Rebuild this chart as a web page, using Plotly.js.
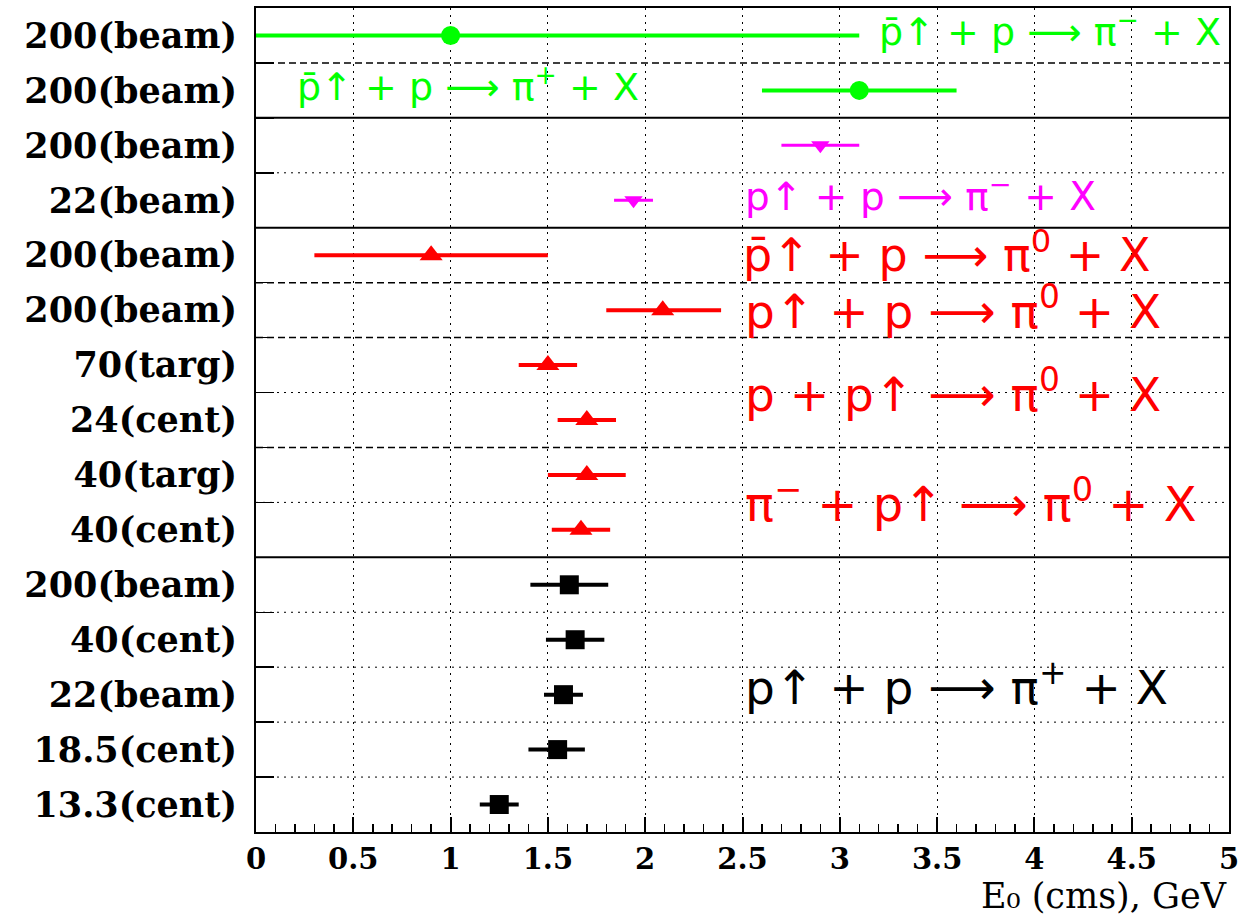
<!DOCTYPE html>
<html>
<head>
<meta charset="utf-8">
<script src="https://cdn.plot.ly/plotly-3.0.1.min.js"></script>
<style>html,body{margin:0;padding:0;background:#fff;}#chart{width:1240px;height:917px;}</style>
</head>
<body>
<div id="chart"></div>
<script>
// Row labels (top to bottom)
const rowLabels = ["200(beam)","200(beam)","200(beam)","22(beam)","200(beam)","200(beam)","70(targ)","24(cent)","40(targ)","40(cent)","200(beam)","40(cent)","22(beam)","18.5(cent)","13.3(cent)"];

// Green: pbar-up + p -> pi-/pi+ + X
const greenRows = [0, 1];
const greenE0 = [1.0, 3.1];
const greenErrMinus = [1.0, 0.5];
const greenErrPlus = [2.1, 0.5];

// Magenta: p-up + p -> pi- + X
const magentaRows = [2, 3];
const magentaE0 = [2.9, 1.94];
const magentaErrMinus = [0.2, 0.1];
const magentaErrPlus = [0.2, 0.1];

// Red: pi0 production
const redRows = [4, 5, 6, 7, 8, 9];
const redE0 = [0.9, 2.09, 1.5, 1.7, 1.7, 1.67];
const redErrMinus = [0.6, 0.29, 0.15, 0.15, 0.2, 0.15];
const redErrPlus = [0.6, 0.3, 0.15, 0.15, 0.2, 0.15];

// Black: p-up + p -> pi+ + X
const blackRows = [10, 11, 12, 13, 14];
const blackE0 = [1.61, 1.64, 1.58, 1.55, 1.25];
const blackErrMinus = [0.2, 0.15, 0.1, 0.15, 0.1];
const blackErrPlus = [0.2, 0.15, 0.1, 0.14, 0.1];

// Separator styles between row i and i+1
const sepStyles = ["dash","solid","dot","solid","dash","dash","dot","dash","dot","solid","dot","dot","dot","dot"];

function trace(rows, x, em, ep, color, symbol, size, thick) {
  return {
    type: 'scatter', mode: 'markers', x: x, y: rows,
    marker: {color: color, symbol: symbol, size: size, line: {width: 0}},
    error_x: {type: 'data', symmetric: false, array: ep, arrayminus: em, color: color, thickness: thick, width: 0},
    showlegend: false, hoverinfo: 'x+y', cliponaxis: false
  };
}

const data = [
  trace(greenRows, greenE0, greenErrMinus, greenErrPlus, '#00ff00', 'circle', 19, 4),
  trace(magentaRows, magentaE0, magentaErrMinus, magentaErrPlus, '#ff00ff', 'triangle-down', 16, 3),
  trace(redRows, redE0, redErrMinus, redErrPlus, '#ff0000', 'triangle-up', 20, 4),
  trace(blackRows, blackE0, blackErrMinus, blackErrPlus, '#000000', 'square', 19, 4)
];

const rowIdx = rowLabels.map((_, i) => i);
const boundaries = sepStyles.map((_, i) => i + 0.5);

const shapes = sepStyles.map((s, i) => ({
  type: 'line', xref: 'paper', x0: 0, x1: 1, yref: 'y', y0: i + 0.5, y1: i + 0.5,
  line: {color: '#000', width: s === 'solid' ? 2 : (s === 'dash' ? 1.5 : 1), dash: s === 'dash' ? '7px,4px' : (s === 'dot' ? '2px,5px' : 'solid')},
  layer: 'below'
}));

const reacFont = 'DejaVu Sans, sans-serif';
function ann(text, x, y, color, size) {
  return {text: text, x: x, y: y, xref: 'x', yref: 'y', xanchor: 'left', yanchor: 'middle',
    showarrow: false, font: {family: reacFont, size: size, color: color}};
}
const annotations = [
  ann('p\u0304\u2191 + p \u27F6 \u03C0<sup>\u2212</sup> + X', 3.19, -0.12, '#00ff00', 38),
  ann('p\u0304\u2191 + p \u27F6 \u03C0<sup>+</sup> + X', 0.2, 0.88, '#00ff00', 38),
  ann('p\u2191 + p \u27F6 \u03C0<sup>\u2212</sup> + X', 2.5, 2.88, '#ff00ff', 39),
  ann('p\u0304\u2191 + p \u27F6 \u03C0<sup>0</sup> + X', 2.49, 3.95, '#ff0000', 46),
  ann('p\u2191 + p \u27F6 \u03C0<sup>0</sup> + X', 2.5, 4.97, '#ff0000', 47),
  ann('p + p\u2191 \u27F6 \u03C0<sup>0</sup> + X', 2.5, 6.48, '#ff0000', 47),
  ann('\u03C0<sup>\u2212</sup> + p\u2191 \u27F6 \u03C0<sup>0</sup> + X', 2.5, 8.48, '#ff0000', 48),
  ann('p\u2191 + p \u27F6 \u03C0<sup>+</sup> + X', 2.5, 11.8, '#000000', 47),
  {text: 'E\u2080 (cms), GeV', xref: 'paper', yref: 'paper', x: 1.0, y: 0, xanchor: 'right', yanchor: 'bottom', yshift: -86,
   showarrow: false, font: {family: 'DejaVu Serif, serif', size: 35, color: '#000'}}
];

const layout = {
  width: 1240, height: 917,
  margin: {l: 256, r: 11, t: 8, b: 85},
  paper_bgcolor: '#fff', plot_bgcolor: '#fff',
  showlegend: false,
  xaxis: {
    range: [0, 5], dtick: 0.5, tick0: 0,
    ticks: 'inside', ticklen: 15, tickwidth: 2, tickcolor: '#000',
    showline: true, mirror: true, linecolor: '#000', linewidth: 2,
    showgrid: true, gridcolor: '#000', gridwidth: 1, griddash: '2px,5px',
    zeroline: false,
    ticklabeloverflow: 'allow', ticklabelstandoff: 0,
    tickfont: {family: 'DejaVu Serif, serif', size: 29, color: '#000', weight: 'bold'},
    minor: {dtick: 0.1, tick0: 0, ticks: 'inside', ticklen: 8, tickwidth: 1.5, tickcolor: '#000', showgrid: false}
  },
  yaxis: {
    range: [14.5, -0.5], autorange: false,
    tickmode: 'array', tickvals: rowIdx, ticktext: rowLabels,
    ticks: '', showgrid: false, zeroline: false,
    showline: true, mirror: true, linecolor: '#000', linewidth: 2,
    tickfont: {family: 'DejaVu Serif, serif', size: 35, color: '#000', weight: 'bold'},
    ticklabelstandoff: 10,
    minor: {tickmode: 'array', tickvals: boundaries, ticks: 'inside', ticklen: 18, tickwidth: 1.5, tickcolor: '#000', showgrid: false}
  },
  shapes: shapes,
  annotations: annotations
};

Plotly.newPlot('chart', data, layout, {staticPlot: true});
</script>
</body>
</html>
